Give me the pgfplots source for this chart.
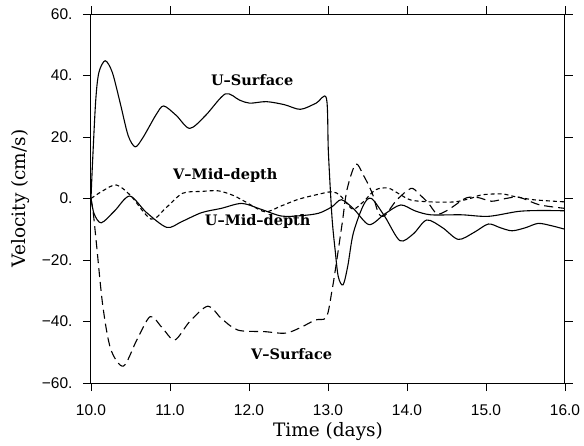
\documentclass[border=0pt]{standalone}
\usepackage{pgfplots}
\pgfplotsset{compat=1.18}
\usepackage{fontspec}
\setmainfont{DejaVu Serif}
\newfontfamily\tickfont{Liberation Sans}
\begin{document}
\begin{tikzpicture}
\path[use as bounding box] (-91pt,-62pt) rectangle (493pt,383pt);
\begin{axis}[
  scale only axis, width=474pt, height=369pt,
  xmin=10, xmax=16, ymin=-60, ymax=60,
  xtick={10,11,12,13,14,15,16},
  xticklabels={10.0,11.0,12.0,13.0,14.0,15.0,16.0},
  ytick={-60,-40,-20,0,20,40,60},
  yticklabels={−60.,−40.,−20.,0.,20.,40.,60.},
  tick align=outside, tick pos=both,
  xticklabel pos=bottom, yticklabel pos=left,
  major tick length=8pt,
  tick style={line width=0.9pt, black},
  axis line style={line width=1pt},
  minor tick num=0,
  ticklabel style={font=\tickfont\fontsize{15.5}{15.5}\selectfont},
  xticklabel style={yshift=-10pt},
  yticklabel style={xshift=-7pt},
  xlabel={Time (days)}, ylabel={Velocity (cm/s)},
  label style={font=\fontsize{18.5}{18.5}\selectfont},
  xlabel style={at={(axis description cs:0.5,0)}, anchor=base, yshift=-53pt},
  ylabel style={at={(axis description cs:-0.1392,0.5)}, anchor=base},
  clip=true,
]
% U-Surface
\addplot[black, line width=1.1pt, smooth, tension=0.5] coordinates {
(10.00,0) (10.02,12) (10.06,32) (10.10,41) (10.18,44.8) (10.27,41) (10.37,31)
(10.47,20.5) (10.56,16.8) (10.65,19.5) (10.74,23.5) (10.83,27.5) (10.92,30.1)
(11.08,27) (11.25,22.8) (11.45,27)
(11.70,34.0) (11.88,32) (12.01,31.0) (12.22,31.5) (12.45,30.5) (12.65,29.0)
(12.85,31) (12.98,32.6) (13.005,15) (13.05,-5.9) (13.09,-16.7) (13.13,-25.4)
(13.19,-28.1) (13.25,-22) (13.32,-11.3) (13.45,-2.1) (13.55,0) (13.72,-5.9)
(13.91,-13.7) (14.08,-11.5) (14.25,-7) (14.45,-9.5) (14.65,-13.3) (14.85,-11)
(15.03,-8.3) (15.18,-9.5) (15.33,-10.5) (15.50,-9.5) (15.66,-8.1) (15.82,-8.8)
(16.00,-10)};
% U-Mid-depth
\addplot[black, line width=1.1pt, smooth, tension=0.5] coordinates {
(10.00,0) (10.04,-5) (10.13,-7.9) (10.30,-4) (10.49,0.8) (10.70,-4.5)
(10.96,-9.4) (11.15,-7.5) (11.40,-4.6) (11.65,-3.2) (11.91,-1.6) (12.15,-3.5)
(12.41,-5.7) (12.65,-5.6) (12.88,-4.8) (13.05,-2.7) (13.17,-0.4) (13.33,-3.5)
(13.52,-8.5) (13.72,-5) (13.92,-2.1) (14.10,-4.0) (14.30,-5.3) (14.69,-5.3)
(15.03,-5.8) (15.41,-4.2) (15.70,-3.9) (16.00,-4.0)};
% V-Mid-depth
\addplot[black, line width=1.1pt, dash pattern=on 4pt off 3pt, smooth, tension=0.5] coordinates {
(10.00,0) (10.15,2.5) (10.32,4.4) (10.50,1) (10.76,-6.7) (10.95,-3)
(11.16,1.7) (11.40,2.3) (11.61,2.5) (11.80,1) (11.95,-1.0) (12.20,-4.3)
(12.40,-2.5) (12.62,-0.3) (12.85,1.2) (13.05,2.2) (13.15,1.1) (13.22,-1)
(13.32,-3.5) (13.45,-1) (13.60,2.8) (13.76,3.4) (13.90,1.5) (14.05,-0.5)
(14.30,-1.1) (14.60,-1.1) (14.80,0) (14.95,1.2) (15.20,1.5) (15.35,0.7)
(15.60,-0.4) (16.00,-1.1)};
% V-Surface
\addplot[black, line width=1.1pt, dash pattern=on 9pt off 5pt, smooth, tension=0.5] coordinates {
(10.00,0) (10.03,-5) (10.07,-15) (10.15,-35) (10.25,-49) (10.41,-54.5)
(10.58,-46) (10.75,-38.4) (10.90,-42) (11.06,-46) (11.25,-40) (11.48,-35)
(11.65,-39) (11.86,-42.8) (12.20,-43.3) (12.46,-43.8) (12.65,-42) (12.84,-39.5)
(12.98,-38.6) (13.05,-30) (13.10,-22) (13.18,-8) (13.24,2.8) (13.35,11.2)
(13.45,7.5) (13.56,1.7) (13.64,-4.8) (13.72,-5.5) (13.87,-0.5) (14.05,3.3)
(14.15,1.5) (14.27,-1.5) (14.38,-5.0) (14.50,-4) (14.59,-2.5) (14.75,0.2)
(14.90,0.3) (15.07,-0.9) (15.25,0) (15.42,0.4) (15.67,-2) (15.96,-3.1) (16.00,-3.1)};
\node[font=\bfseries\fontsize{14.5}{14.5}\selectfont] at (axis cs:12.04,38.5) {U–Surface};
\node[font=\bfseries\fontsize{14.5}{14.5}\selectfont] at (axis cs:11.70,7.6) {V–Mid–depth};
\node[font=\bfseries\fontsize{14.5}{14.5}\selectfont] at (axis cs:12.11,-7.5) {U–Mid–depth};
\node[font=\bfseries\fontsize{14.5}{14.5}\selectfont] at (axis cs:12.54,-50.6) {V–Surface};
\end{axis}
\end{tikzpicture}
\end{document}
